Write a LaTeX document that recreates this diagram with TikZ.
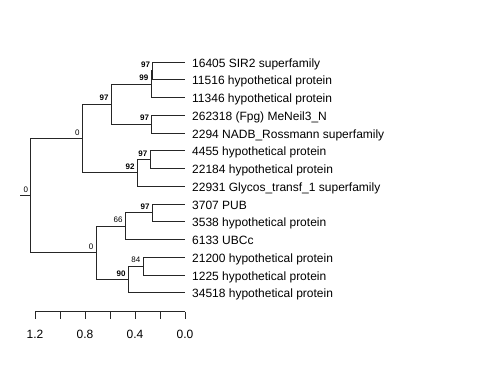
\documentclass[tikz,border=0pt]{standalone}
\usepackage{fontspec}
\setmainfont{Liberation Sans}
\begin{document}
\begin{tikzpicture}[x=1pt,y=-1pt,
  edge/.style={draw=black!85,line width=0.9pt},
  leaflab/.style={anchor=base west,inner sep=0pt,font=\fontsize{12}{14}\selectfont},
  bsb/.style={anchor=base east,inner sep=0pt,xshift=-2.5pt,yshift=3.3pt,font=\fontsize{8}{9}\selectfont\bfseries},
  bsr/.style={anchor=base east,inner sep=0pt,xshift=-2.5pt,yshift=3.3pt,font=\fontsize{8}{9}\selectfont},
  axlab/.style={anchor=base,inner sep=0pt,font=\fontsize{12}{14}\selectfont}]
\useasboundingbox (0,0) rectangle (480,384);
% leaves
\coordinate (l0) at (185,62);
\coordinate (l1) at (185,79.75);
\coordinate (l2) at (185,97.5);
\coordinate (l3) at (185,115.25);
\coordinate (l4) at (185,133);
\coordinate (l5) at (185,150.75);
\coordinate (l6) at (185,168.5);
\coordinate (l7) at (185,186.25);
\coordinate (l8) at (185,204);
\coordinate (l9) at (185,221.75);
\coordinate (l10) at (185,239.5);
\coordinate (l11) at (185,257.25);
\coordinate (l12) at (185,275);
\coordinate (l13) at (185,292.75);
% internal nodes
\coordinate (n97b) at (152.7,70.875);
\coordinate (n99) at (151,84.19);
\coordinate (n97c) at (151.7,124.125);
\coordinate (n97a) at (111.3,104.16);
\coordinate (n97d) at (150,159.625);
\coordinate (n92) at (137.3,172.94);
\coordinate (n0t) at (82.3,138.55);
\coordinate (n97e) at (152.3,212.875);
\coordinate (n66) at (125.3,226.19);
\coordinate (n84) at (143,266.125);
\coordinate (n90) at (128.3,279.44);
\coordinate (n0b) at (96,252.8);
\coordinate (root) at (30.7,195.7);
\coordinate (stub) at (20,195.7);
% edges
\draw[edge] (stub) -- (root);
\draw[edge] (root) |- (n0t);
\draw[edge] (root) |- (n0b);
\draw[edge] (n0t) |- (n97a);
\draw[edge] (n0t) |- (n92);
\draw[edge] (n97a) |- (n99);
\draw[edge] (n97a) |- (n97c);
\draw[edge] (n99) |- (n97b);
\draw[edge] (n99) |- (l2);
\draw[edge] (n97b) |- (l0);
\draw[edge] (n97b) |- (l1);
\draw[edge] (n97c) |- (l3);
\draw[edge] (n97c) |- (l4);
\draw[edge] (n92) |- (n97d);
\draw[edge] (n92) |- (l7);
\draw[edge] (n97d) |- (l5);
\draw[edge] (n97d) |- (l6);
\draw[edge] (n0b) |- (n66);
\draw[edge] (n0b) |- (n90);
\draw[edge] (n66) |- (n97e);
\draw[edge] (n66) |- (l10);
\draw[edge] (n97e) |- (l8);
\draw[edge] (n97e) |- (l9);
\draw[edge] (n90) |- (n84);
\draw[edge] (n90) |- (l13);
\draw[edge] (n84) |- (l11);
\draw[edge] (n84) |- (l12);
% leaf labels
\node[leaflab] (t0) at ([xshift=7pt,yshift=-5pt]l0) {16405 SIR2 superfamily};
\node[leaflab] (t1) at ([xshift=7pt,yshift=-5pt]l1) {11516 hypothetical protein};
\node[leaflab] (t2) at ([xshift=7pt,yshift=-5pt]l2) {11346 hypothetical protein};
\node[leaflab] (t3) at ([xshift=7pt,yshift=-5pt]l3) {262318 (Fpg) MeNeil3\_N};
\node[leaflab] (t4) at ([xshift=7pt,yshift=-5pt]l4) {2294 NADB\_Rossmann superfamily};
\node[leaflab] (t5) at ([xshift=7pt,yshift=-5pt]l5) {4455 hypothetical protein};
\node[leaflab] (t6) at ([xshift=7pt,yshift=-5pt]l6) {22184 hypothetical protein};
\node[leaflab] (t7) at ([xshift=7pt,yshift=-5pt]l7) {22931 Glycos\_transf\_1 superfamily};
\node[leaflab] (t8) at ([xshift=7pt,yshift=-5pt]l8) {3707 PUB};
\node[leaflab] (t9) at ([xshift=7pt,yshift=-5pt]l9) {3538 hypothetical protein};
\node[leaflab] (t10) at ([xshift=7pt,yshift=-5pt]l10) {6133 UBCc};
\node[leaflab] (t11) at ([xshift=7pt,yshift=-5pt]l11) {21200 hypothetical protein};
\node[leaflab] (t12) at ([xshift=7pt,yshift=-5pt]l12) {1225 hypothetical protein};
\node[leaflab] (t13) at ([xshift=7pt,yshift=-5pt]l13) {34518 hypothetical protein};
% support labels
\node[bsb] (b97b) at (n97b) {97};
\node[bsb] (b99) at (n99) {99};
\node[bsb] (b97c) at (n97c) {97};
\node[bsb] (b97a) at (n97a) {97};
\node[bsb] (b97d) at (n97d) {97};
\node[bsb] (b92) at (n92) {92};
\node[bsr] (b0t) at (n0t) {0};
\node[bsb] (b97e) at (n97e) {97};
\node[bsr] (b66) at (n66) {66};
\node[bsr] (b84) at (n84) {84};
\node[bsb] (b90) at (n90) {90};
\node[bsr] (b0b) at (n0b) {0};
\node[bsr] (broot) at (root) {0};
% axis
\coordinate (a0) at (35,311.7);
\coordinate (a1) at (185,311.7);
\draw[edge] (a0) -- (a1);
\foreach \i in {0,...,6} {
  \draw[edge] (35+25*\i,311.7) -- (35+25*\i,319);
}
\node[axlab] (x12) at (35,338) {1.2};
\node[axlab] (x08) at (85,338) {0.8};
\node[axlab] (x04) at (135,338) {0.4};
\node[axlab] (x00) at (185,338) {0.0};
\end{tikzpicture}
\end{document}
